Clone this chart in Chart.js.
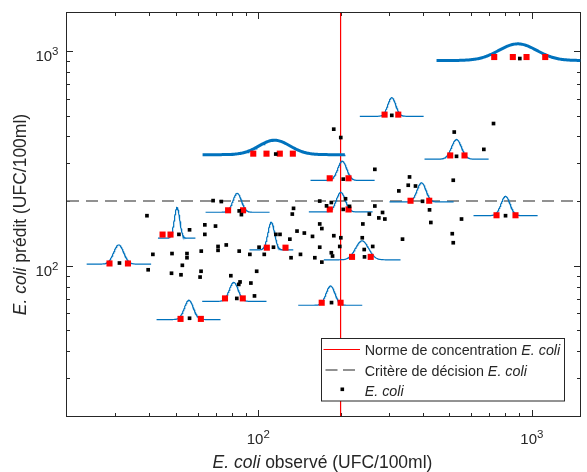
<!DOCTYPE html>
<html><head><meta charset="utf-8">
<script src="https://cdn.jsdelivr.net/npm/chart.js@4.4.1/dist/chart.umd.min.js"></script>
<style>html,body{margin:0;padding:0;background:#fff;}canvas{display:block;}</style>
</head><body>
<canvas id="c" width="587" height="472"></canvas>
<script>
// ---- axes ----
const axisMin = 20, axisMax = 1500;
const majorTicks = [100, 1000];
const majorLabels = [['10','2'], ['10','3']];
const minorTicks = [30,40,50,60,70,80,90,200,300,400,500,600,700,800,900];
const normeConcentration = 200;   // vertical red line (observed)
const critereDecision = 200;      // horizontal dashed line (predicted)

// ---- E. coli points (observed, predicted) ----
const ecoliObs = [39.2,68.4,73.3,56.1,63.8,69.8,51.3,63.8,31.1,41.2,48.4,54.9,54.9,61.9,71.3,71.3,76.4,52.8,39.6,48.2,52.2,61.8,61.3,79.4,56.1,85.2,93.2,98.7,85.8,84.9,94.0,96.9,83.5,100.7,105.2,113.7,130.5,131.8,142.7,138.6,116.0,120.1,85.2,86.8,134.6,133.2,115.9,188.8,200.3,204.5,266.8,167.8,177.7,185.0,208.5,204.5,215.6,254.7,266.8,167.8,170.8,147.4,157.9,188.9,200.4,198.6,167.8,185.0,186.9,161.0,170.8,241.2,240.0,244.0,262.1,244.6,336.8,511.9,516.2,185.3,520.5,724.4,667.7,530.6,357.3,353.4,375.7,326.5,516.2,284.7,275.9,290.3,398.6,422.8,427.4,553.4,801.5,307.7,903.8];
const ecoliPred = [171,201,199,147,155,153,140,140,103,113,114,114,109,117,123,118,125,100.5,95.8,92.3,90.8,94.3,88.6,89.9,57,117,113,94.3,84.1,81.9,83.1,72.4,70.5,122,113,122,133,109,113,145,140,140,180,173,185,174,331,432,395,253,281,200,190,197,205,183,189,174,189.7,156.5,149,142,137,138,135,123,122,115,111,109,104,156.5,135,119,123,110,133,141,128,67.4,419,459,348,323,259,237,235,223,250,177,167,165,199.5,182,159,165,171,501,921];

// ---- sample groups (red squares) and their distributions (blue curves) ----
const groupSamplesX = [[28.6,33.4],[44.7,47.8],[77.6,88.0],[107.5,125.8],[75.6,87.8],[52.0,61.7],[95.9,107.2,119.9,133.8],[170.6,200.0],[220.2,257.7],[182.5,213.8],[182.6,213.8],[360.3,421.7],[289.6,325.0],[503.2,567.5],[743.0,871.6],[728.7,852.3,956.4,1119.5]];
const groupSampleY = [102.5,139.7,181.2,121.4,70.5,56.6,332.4,67.3,110.0,255.3,182.8,200.7,505.0,326.1,171.8,935.9];
const distCenter = [30.9,50.5,83.8,111.6,81.4,55.8,114.7,183.8,239.6,202.8,200.4,395.3,307.7,530.6,801.5,888.7];
const distBase   = [101.8,134.4,177.4,118.6,68.3,56.2,328.8,65.5,106.6,249.6,178.0,198.1,496.0,313.3,171.1,901.6];
const distPeak   = [125.1,186.7,217.3,159.5,83.7,69.1,383.8,80.5,130.6,306.7,219.6,243.3,605.5,386.7,210.4,1077.7];
const distSigma  = [0.0183,0.0099,0.0157,0.0121,0.0164,0.0164,0.0567,0.0164,0.0238,0.0164,0.0164,0.0164,0.0146,0.0183,0.0164,0.0694]; // log10 units
const distFrom   = [23.6,43.0,64.2,92.9,62.4,42.5,62.6,140.0,173.7,155.3,153.1,301.9,235.1,405.3,612.2,448.4];
const distTo     = [40.6,59.0,110.0,134.3,107.2,72.8,207.3,240.0,331.2,266.8,262.3,518.7,403.0,696.3,1051.7,1753];

const FONT = "'Liberation Sans', Arial, Helvetica, sans-serif";
const AX = '#262626';
const BLUE = '#0072BD';
const DASH = '#6e6e6e';

function bellCurve(i){
  const lc = Math.log10(distCenter[i]), s = distSigma[i];
  const l0 = Math.log10(distFrom[i]), l1 = Math.log10(distTo[i]);
  const lb = Math.log10(distBase[i]), lp = Math.log10(distPeak[i]);
  const pts = []; const n = 160;
  for (let k = 0; k <= n; k++) {
    const lx = l0 + (l1 - l0) * k / n;
    const g = Math.exp(-0.5 * Math.pow((lx - lc) / s, 2));
    pts.push({x: Math.pow(10, lx), y: Math.pow(10, lb + (lp - lb) * g)});
  }
  return pts;
}

const datasets = [];
datasets.push({label:'E. coli', data: ecoliObs.map((v,i)=>({x:v,y:ecoliPred[i]})),
  pointStyle:'rect', pointRadius:2.6, borderWidth:0, backgroundColor:'#000', order:0});
const reds = [];
groupSamplesX.forEach((xs,i)=>xs.forEach(v=>reds.push({x:v,y:groupSampleY[i]})));
datasets.push({label:'samples', data: reds, pointStyle:'rect', pointRadius:4.3, borderWidth:0, backgroundColor:'#ff0000', order:1});
distCenter.forEach((c,i)=>{
  const bold = groupSamplesX[i].length > 2;
  datasets.push({label:'dist'+i, data: bellCurve(i), showLine:true, pointRadius:0, borderColor:BLUE,
    borderWidth: bold ? 3 : 1.2, tension:0, clip: bold ? false : undefined, order:2});
});
datasets.push({label:'Norme', data:[{x:normeConcentration,y:axisMin},{x:normeConcentration,y:axisMax}], showLine:true,
  pointRadius:0, borderColor:'#ff0000', borderWidth:1.2, order:3});
datasets.push({label:'Critere', data:[{x:axisMin,y:critereDecision},{x:axisMax,y:critereDecision}], showLine:true,
  pointRadius:0, borderColor:DASH, borderWidth:1.5, borderDash:[12,7], order:4});

function drawParts(ctx, parts, x, y, size){
  let cx = x;
  parts.forEach(([t,it])=>{ ctx.font = (it?'italic ':'') + size + 'px ' + FONT; ctx.fillText(t, cx, y); cx += ctx.measureText(t).width; });
}
function partsWidth(ctx, parts, size){
  let w = 0;
  parts.forEach(([t,it])=>{ ctx.font = (it?'italic ':'') + size + 'px ' + FONT; w += ctx.measureText(t).width; });
  return w;
}

const axesPlugin = {
  id:'axesPlugin',
  beforeDatasetsDraw(chart){
    const {ctx, chartArea:a, scales:{x,y}} = chart;
    ctx.save();
    ctx.strokeStyle = AX; ctx.lineWidth = 1;
    const L = a.left-0.5, R = a.right+0.5, T = a.top-0.5, B = a.bottom+0.5;
    ctx.beginPath();
    const tick = (v, len) => {
      const px = Math.round(x.getPixelForValue(v)) + 0.5;
      ctx.moveTo(px, B); ctx.lineTo(px, B - len);
      ctx.moveTo(px, T); ctx.lineTo(px, T + len);
      const py = Math.round(y.getPixelForValue(v)) + 0.5;
      ctx.moveTo(L, py); ctx.lineTo(L + len, py);
      ctx.moveTo(R, py); ctx.lineTo(R - len, py);
    };
    majorTicks.forEach(v=>tick(v, 6.5));
    minorTicks.forEach(v=>tick(v, 3.5));
    ctx.stroke();
    ctx.strokeRect(L, T, R-L, B-T);
    ctx.restore();
  },
  afterDraw(chart){
    const {ctx, chartArea:a, scales:{x,y}} = chart;
    ctx.save();
    ctx.fillStyle = AX; ctx.textBaseline = 'alphabetic'; ctx.textAlign = 'left';
    // tick labels
    majorTicks.forEach((v,i)=>{
      const [b,e] = majorLabels[i];
      ctx.font = '15px ' + FONT; const wb = ctx.measureText(b).width;
      ctx.font = '11.5px ' + FONT; const we = ctx.measureText(e).width;
      const px = x.getPixelForValue(v);
      const sx = px - (wb+we)/2, by = a.bottom + 27.5;
      ctx.font = '15px ' + FONT; ctx.fillText(b, sx, by);
      ctx.font = '11.5px ' + FONT; ctx.fillText(e, sx+wb, by-6);
      const py = y.getPixelForValue(v);
      const rx = a.left - 8.5 - (wb+we), ry = py + 9.8;
      ctx.font = '15px ' + FONT; ctx.fillText(b, rx, ry);
      ctx.font = '11.5px ' + FONT; ctx.fillText(e, rx+wb, ry-6);
    });
    // axis titles
    const xt = [['E. coli',true],[' observé (UFC/100ml)',false]];
    const wx = partsWidth(ctx, xt, 17.5);
    drawParts(ctx, xt, (a.left+a.right)/2 - wx/2 - 1, 468.3, 17.5);
    const yt = [['E. coli',true],[' prédit (UFC/100ml)',false]];
    const wy = partsWidth(ctx, yt, 17.5);
    ctx.save();
    ctx.translate(25.5, (a.top+a.bottom)/2);
    ctx.rotate(-Math.PI/2);
    drawParts(ctx, yt, -wy/2, 0, 17.5);
    ctx.restore();
    // legend
    const lx = 321.5, ly = 338.5, lw = 243, lh = 62.5;
    ctx.fillStyle = '#fff'; ctx.fillRect(lx, ly, lw, lh);
    ctx.strokeStyle = AX; ctx.lineWidth = 1; ctx.strokeRect(lx, ly, lw, lh);
    ctx.strokeStyle = '#ff0000'; ctx.lineWidth = 1.2;
    ctx.beginPath(); ctx.moveTo(323.5, 349.5); ctx.lineTo(360, 349.5); ctx.stroke();
    ctx.strokeStyle = DASH; ctx.lineWidth = 1.5; ctx.setLineDash([12,5.5]);
    ctx.beginPath(); ctx.moveTo(325.5, 370); ctx.lineTo(357, 370); ctx.stroke();
    ctx.setLineDash([]);
    ctx.fillStyle = '#000'; ctx.fillRect(340.5, 387.5, 3.6, 3.6);
    ctx.fillStyle = AX;
    drawParts(ctx, [['Norme de concentration ',false],['E. coli',true]], 364.7, 355.3, 14.3);
    drawParts(ctx, [['Critère de décision ',false],['E. coli',true]], 364.7, 375.8, 14.3);
    drawParts(ctx, [['E. coli',true]], 364.7, 396.2, 14.3);
    ctx.restore();
  }
};

new Chart(document.getElementById('c'), {
  type:'scatter',
  data:{datasets},
  options:{
    responsive:false, animation:false, events:[],
    layout:{padding:{left:67,right:7,top:13,bottom:56}},
    plugins:{legend:{display:false}, tooltip:{enabled:false}},
    scales:{
      x:{type:'logarithmic', min:axisMin, max:axisMax, display:false},
      y:{type:'logarithmic', min:axisMin, max:axisMax, display:false}
    }
  },
  plugins:[axesPlugin]
});
</script>
</body></html>
